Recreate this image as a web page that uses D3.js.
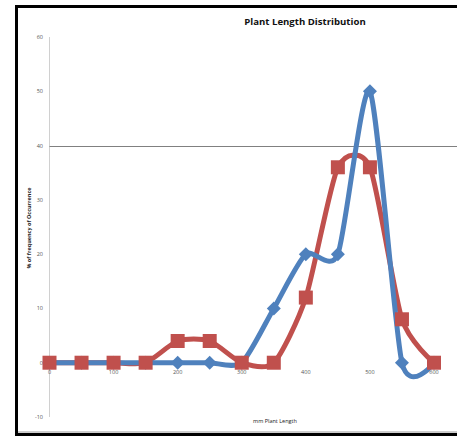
<!DOCTYPE html>
<html>
<head>
<meta charset="utf-8">
<script src="https://cdn.jsdelivr.net/npm/d3@7"></script>
<style>
  body { margin: 0; background: #fff; }
  text { font-family: "Open Sans", "Liberation Sans", sans-serif; }
</style>
</head>
<body>
<div id="plot"></div>
<script>
// chart data
const lengths = [0, 50, 100, 150, 200, 250, 300, 350, 400, 450, 500, 550, 600];
const blueValues = [0, 0, 0, 0, 0, 0, 0, 10, 20, 20, 50, 0, 0];
const redValues = [0, 0, 0, 0, 4, 4, 0, 0, 12, 36, 36, 8, 0];
const xTicks = [0, 100, 200, 300, 400, 500, 600];
const yTicks = [-10, 0, 10, 20, 30, 40, 50, 60];

const svg = d3.select("div#plot")
              .append("svg")
              .attr("width", 457)
              .attr("height", 438);

// frame
svg.append("rect")
   .attr("x", 16.5)
   .attr("y", 6.5)
   .attr("width", 470)
   .attr("height", 428)
   .attr("fill", "white")
   .attr("stroke", "black")
   .attr("stroke-width", 3);
svg.append("line")
   .attr("x1", 18).attr("x2", 457)
   .attr("y1", 432).attr("y2", 432)
   .attr("stroke", "#9a9a9a")
   .attr("stroke-width", 1);

const xScale = d3.scaleLinear().domain([0, 600]).range([49.5, 434]);
const yScale = d3.scaleLinear().domain([-10, 60]).range([417, 37]);

// y axis line
svg.append("line")
   .attr("x1", xScale(0)).attr("x2", xScale(0))
   .attr("y1", yScale(60)).attr("y2", yScale(-10))
   .attr("stroke", "#d0d0d0")
   .attr("stroke-width", 1);

// the single gridline at 40
svg.append("line")
   .attr("x1", xScale(0)).attr("x2", 457)
   .attr("y1", Math.round(yScale(40)) + 0.5).attr("y2", Math.round(yScale(40)) + 0.5)
   .attr("stroke", "#808080")
   .attr("stroke-width", 1);

// tick labels
svg.selectAll("text.y-label")
   .data(yTicks)
   .enter()
   .append("text")
   .attr("class", "y-label")
   .attr("x", 43)
   .attr("y", d => yScale(d) + 2)
   .attr("text-anchor", "end")
   .attr("font-size", "5.5px")
   .attr("fill", "#555")
   .text(d => d);

svg.selectAll("text.x-label")
   .data(xTicks)
   .enter()
   .append("text")
   .attr("class", "x-label")
   .attr("x", d => xScale(d))
   .attr("y", 374)
   .attr("text-anchor", "middle")
   .attr("font-size", "5.5px")
   .attr("fill", "#555")
   .text(d => d);

// titles
svg.append("text")
   .attr("x", 305)
   .attr("y", 25)
   .attr("text-anchor", "middle")
   .attr("font-size", "9.6px")
   .attr("font-weight", "bold")
   .attr("fill", "#111")
   .text("Plant Length Distribution");

svg.append("text")
   .attr("x", 275)
   .attr("y", 423)
   .attr("text-anchor", "middle")
   .attr("font-size", "5.5px")
   .attr("fill", "#222")
   .text("mm Plant Length");

svg.append("text")
   .attr("transform", "translate(31, 228) rotate(-90)")
   .attr("text-anchor", "middle")
   .attr("font-size", "5.5px")
   .attr("font-weight", "bold")
   .attr("fill", "#222")
   .text("% of frequency of Occurrence");

// lines
const line = d3.line()
               .x((d, i) => xScale(lengths[i]))
               .y(d => yScale(d))
               .curve(d3.curveCardinal.tension(0.3));

svg.append("path")
   .datum(redValues)
   .attr("d", line)
   .attr("fill", "none")
   .attr("stroke", "#C0504D")
   .attr("stroke-width", 5);

svg.append("path")
   .datum(blueValues)
   .attr("d", line)
   .attr("fill", "none")
   .attr("stroke", "#4F81BD")
   .attr("stroke-width", 5);

// markers
svg.selectAll("path.diamond")
   .data(blueValues)
   .enter()
   .append("path")
   .attr("class", "diamond")
   .attr("d", "M0,-7L7,0L0,7L-7,0Z")
   .attr("transform", (d, i) => "translate(" + xScale(lengths[i]) + "," + yScale(d) + ")")
   .attr("fill", "#4F81BD");

svg.selectAll("rect.square")
   .data(redValues)
   .enter()
   .append("rect")
   .attr("class", "square")
   .attr("x", (d, i) => xScale(lengths[i]) - 7)
   .attr("y", d => yScale(d) - 7)
   .attr("width", 14)
   .attr("height", 14)
   .attr("fill", "#C0504D");
</script>
</body>
</html>
